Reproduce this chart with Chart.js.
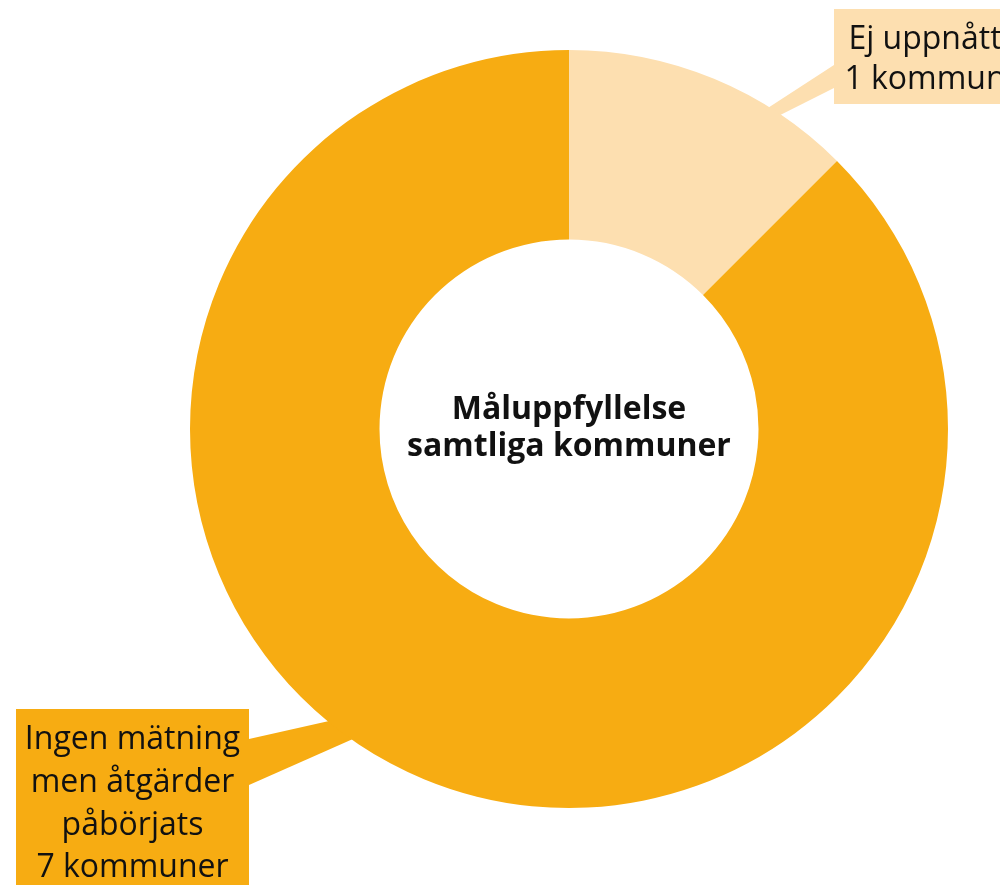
<!DOCTYPE html>
<html><head><meta charset="utf-8">
<script src="https://cdn.jsdelivr.net/npm/chart.js@4"></script>
<style>html,body{margin:0;padding:0;background:#fff;}canvas{display:block;}</style>
</head><body>
<canvas id="c" width="1000" height="885"></canvas>
<script>
const categories = ["Ej uppnått", "Ingen mätning men åtgärder påbörjats"];
const values = [1, 7];
const calloutLines = [["Ej uppnått", "1 kommun"], ["Ingen mätning", "men åtgärder", "påbörjats", "7 kommuner"]];
const centerTitle = ["Måluppfyllelse", "samtliga kommuner"];
const colors = ["#FDDFB0", "#F7AC12"];

const boxes = [
  {x: 834, y: 9, w: 182, h: 95, b0: 65, b1: 88, side: 'left', y0: 40, lh: 40},
  {x: 16, y: 709, w: 233, h: 190, b0: 739, b1: 785, side: 'right', y0: 740, lh: 42.7}
];

const calloutPlugin = {
  id: 'callouts',
  beforeDatasetsDraw(chart) {
    const ctx = chart.ctx;
    const meta = chart.getDatasetMeta(0);
    meta.data.forEach((arc, i) => {
      const tip = arc.tooltipPosition();
      const b = boxes[i];
      const bx = b.side === 'left' ? b.x : b.x + b.w;
      ctx.save();
      ctx.fillStyle = colors[i];
      ctx.beginPath();
      ctx.moveTo(bx, b.b0);
      ctx.lineTo(tip.x, tip.y);
      ctx.lineTo(bx, b.b1);
      ctx.closePath();
      ctx.fill();
      ctx.restore();
    });
  },
  afterDraw(chart) {
    const ctx = chart.ctx;
    const meta = chart.getDatasetMeta(0);
    ctx.save();
    boxes.forEach((b, i) => {
      ctx.fillStyle = colors[i];
      ctx.fillRect(b.x, b.y, b.w, b.h);
      ctx.fillStyle = '#111';
      ctx.font = '32px "Open Sans"';
      ctx.textAlign = 'center';
      ctx.textBaseline = 'middle';
      calloutLines[i].forEach((t, k) => ctx.fillText(t, b.x + b.w / 2, b.y0 + k * b.lh));
    });
    const c = meta.data[0];
    ctx.fillStyle = '#111';
    ctx.font = 'bold 32px "Open Sans"';
    ctx.textAlign = 'center';
    ctx.textBaseline = 'middle';
    ctx.fillText(centerTitle[0], c.x, c.y - 19);
    ctx.fillText(centerTitle[1], c.x, c.y + 18);
    ctx.restore();
  }
};

new Chart(document.getElementById('c'), {
  type: 'doughnut',
  data: {
    labels: categories,
    datasets: [{
      data: values,
      backgroundColor: colors,
      borderWidth: 0,
      hoverOffset: 0
    }]
  },
  options: {
    responsive: false,
    animation: false,
    cutout: '50%',
    layout: {padding: {left: 190, right: 52, top: 50, bottom: 77}},
    plugins: {legend: {display: false}, tooltip: {enabled: false}}
  },
  plugins: [calloutPlugin]
});
</script>
</body></html>
